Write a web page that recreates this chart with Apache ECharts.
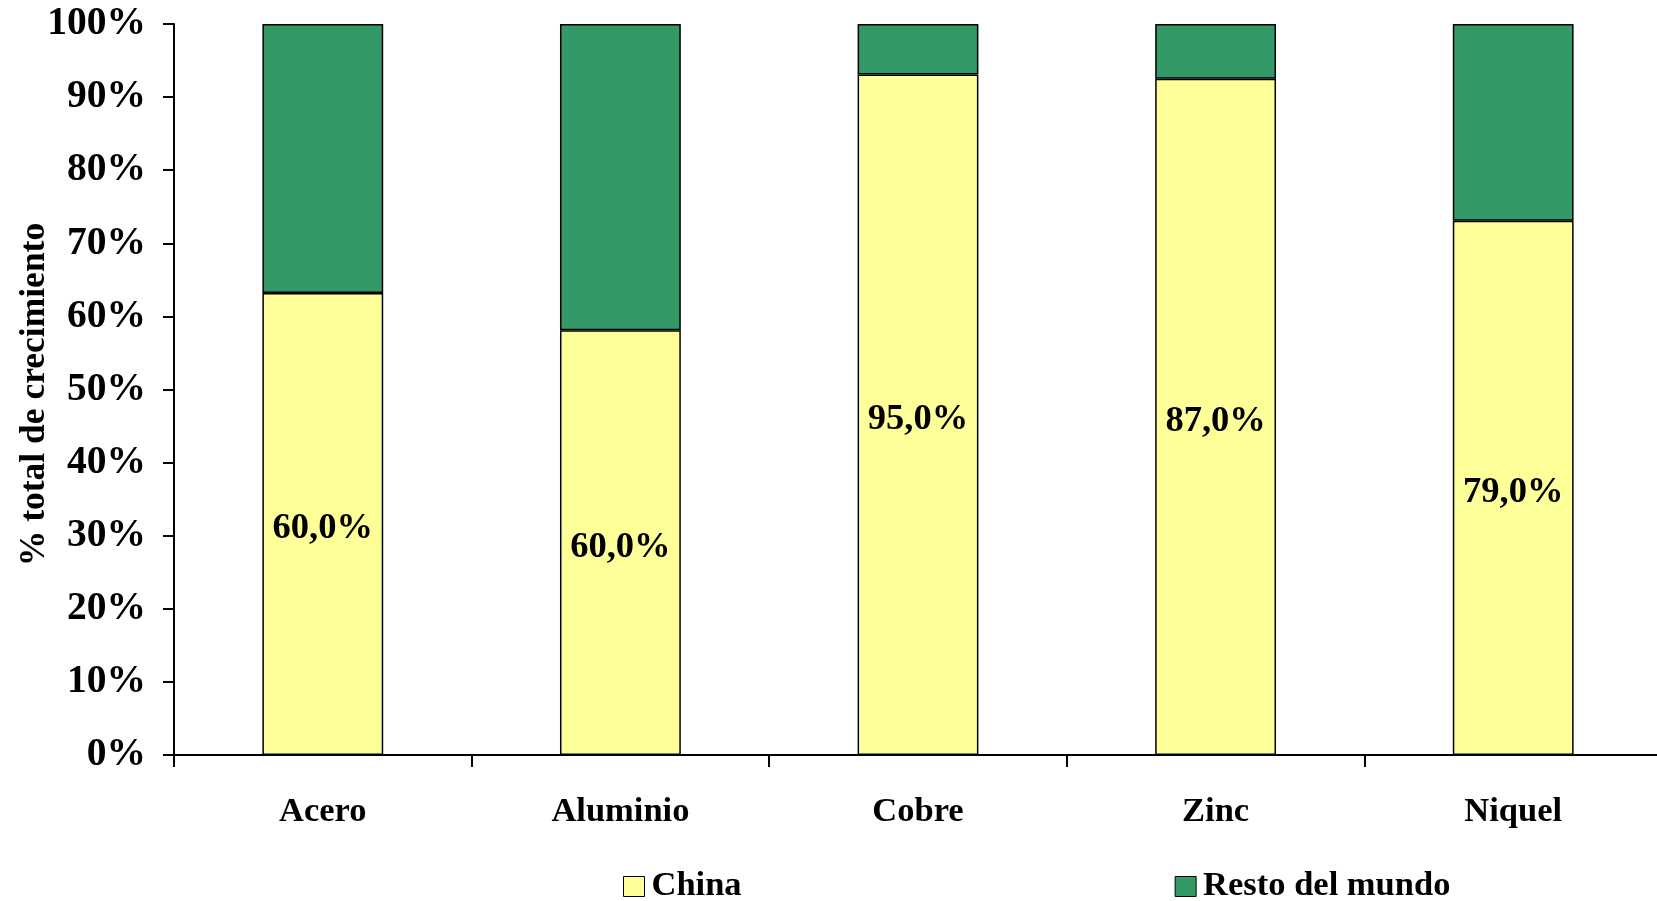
<!DOCTYPE html>
<html>
<head>
<meta charset="utf-8">
<script src="https://cdn.jsdelivr.net/npm/echarts@6/dist/echarts.min.js"></script>
<style>html,body{margin:0;padding:0;background:#fff;}#c{width:1657px;height:901px;}</style>
</head>
<body>
<div id="c"></div>
<script>
const categories = ['Acero', 'Aluminio', 'Cobre', 'Zinc', 'Niquel'];
const chinaShare = [63.2, 58.1, 93.1, 92.5, 73.1];
const restShare = [36.8, 41.9, 6.9, 7.5, 26.9];
const chinaLabels = ['60,0%', '60,0%', '95,0%', '87,0%', '79,0%'];
const seriesNames = ['China', 'Resto del mundo'];

const FONT = '"Liberation Serif", "Times New Roman", serif';
const chart = echarts.init(document.getElementById('c'));
chart.setOption({
  animation: false,
  textStyle: { fontFamily: FONT, fontWeight: 'bold', color: '#000' },
  grid: { left: 174, top: 24, bottom: 146, width: 1488, containLabel: false, outerBoundsMode: 'none' },
  legend: {
    left: 618, top: 864,
    itemWidth: 21, itemHeight: 20, itemGap: 433,
    icon: 'rect',
    textStyle: { fontFamily: FONT, fontWeight: 'bold', fontSize: 34.5, color: '#000', padding: [0, 0, 0, 2] },
    itemStyle: { borderColor: '#000', borderWidth: 1 },
    data: seriesNames
  },
  xAxis: {
    type: 'category', data: categories,
    axisLine: { lineStyle: { color: '#000', width: 2 } },
    axisTick: { show: true, length: 12, lineStyle: { color: '#000', width: 2 } },
    axisLabel: { fontFamily: FONT, fontWeight: 'bold', fontSize: 34.5, color: '#000', margin: 40 }
  },
  yAxis: {
    type: 'value', min: 0, max: 100, interval: 10,
    name: '% total de crecimiento', nameLocation: 'middle', nameGap: 121, nameRotate: 90,
    nameMoveOverlap: false,
    nameTextStyle: { fontFamily: FONT, fontWeight: 'bold', fontSize: 35.5, color: '#000', padding: [0, 10, 0, 0] },
    splitLine: { show: false },
    axisLine: { show: true, lineStyle: { color: '#000', width: 2 } },
    axisTick: { show: true, length: 11, lineStyle: { color: '#000', width: 2 } },
    axisLabel: { fontFamily: FONT, fontWeight: 'bold', fontSize: 39.5, color: '#000', margin: 28, formatter: '{value}%' }
  },
  series: [
    {
      name: seriesNames[0], type: 'bar', stack: 'total', data: chinaShare,
      barWidth: '40.6%',
      itemStyle: { color: '#FFFF99', borderColor: '#000', borderWidth: 1.5 },
      label: {
        show: true, position: 'inside', offset: [0, 5],
        formatter: p => chinaLabels[p.dataIndex],
        fontFamily: FONT, fontWeight: 'bold', fontSize: 36.5, color: '#000'
      }
    },
    {
      name: seriesNames[1], type: 'bar', stack: 'total', data: restShare,
      barWidth: '40.6%',
      itemStyle: { color: '#339966', borderColor: '#000', borderWidth: 1.5 }
    }
  ]
});
</script>
</body>
</html>
